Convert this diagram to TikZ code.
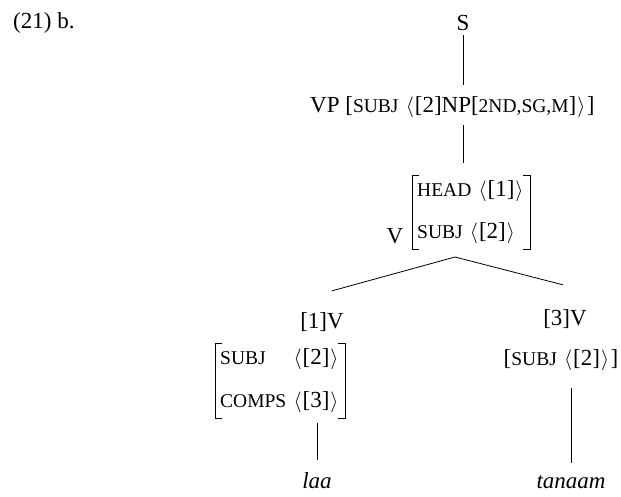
\documentclass[tikz,border=0pt]{standalone}
\usepackage{fontspec}
\setmainfont{Liberation Serif}
\usepackage{amsmath,amssymb}
\usepackage{tikz}

% small caps feature names
\newcommand{\fsc}[1]{{\fontsize{19.5}{21}\selectfont #1}}
\newcommand{\lng}{\kern1.5pt{\fontsize{20}{21}\selectfont$\langle$}\kern1pt}
\newcommand{\rng}{\kern1pt{\fontsize{20}{21}\selectfont$\rangle$}\kern1.5pt}
% brackets round an AVM node
\newcommand{\avmbrk}[1]{%
  \draw[brk] ([xshift=7pt]#1.north west) -- (#1.north west) -- (#1.south west) -- ([xshift=7pt]#1.south west);
  \draw[brk] ([xshift=-7pt]#1.north east) -- (#1.north east) -- (#1.south east) -- ([xshift=-7pt]#1.south east);}

\begin{document}
\begin{tikzpicture}[x=1pt,y=-1pt,
  every node/.style={font=\fontsize{23}{27}\selectfont, inner sep=0pt},
  avm/.style={inner xsep=5pt, inner ysep=2.5pt, anchor=north west},
  brk/.style={line width=0.7pt},
  tree/.style={line width=0.8pt}]
\useasboundingbox (0,0) rectangle (621,496);

\node [anchor=base west] (ex) at (13,28) {(21) b.};

\node [anchor=base] (s) at (463,30) {S};
\node [anchor=base west] (vp) at (310,112) {VP [\fsc{SUBJ} \lng[2]NP[\fsc{2ND,SG,M}]\rng]};

\node [anchor=base] (v) at (395,243) {V};
\node [avm] (vavm) at (412,175) {\begin{tabular}[t]{@{}l@{}}
  \fsc{HEAD} \lng[1]\rng\\[15pt]
  \fsc{SUBJ} \lng[2]\rng
\end{tabular}};
\avmbrk{vavm}
\coordinate (vapex) at (455,257);

% left daughter
\node [anchor=base] (lv) at (322,328) {[1]V};
\node [avm] (lavm) at (215,343) {\begin{tabular}[t]{@{}l@{\ }l@{}}
  \fsc{SUBJ} & \lng[2]\rng\\[16pt]
  \fsc{COMPS} & \lng[3]\rng
\end{tabular}};
\avmbrk{lavm}
\node [anchor=base] (laa) at (317,488) {\itshape laa};

% right daughter
\node [anchor=base] (rv) at (565,325) {[3]V};
\node [anchor=base] (ravm) at (561,365) {[\fsc{SUBJ} \lng[2]\rng]};
\node [anchor=base] (tan) at (571,488) {\itshape tanaam};

\draw[tree, shorten <=5pt, shorten >=11pt] (s.south) -- (s.south |- vp.north);
\draw[tree, shorten <=8pt, shorten >=12pt] (s.south |- vp.south) -- (s.south |- vavm.north);
\draw[tree] (vapex) -- ([shift={(10pt,21pt)}]lv.north);
\draw[tree] (vapex) -- ([shift={(-2pt,24pt)}]rv.north);
\draw[tree, shorten <=5pt, shorten >=12pt] (laa.north |- lavm.south) -- (laa.north);
\draw[tree, shorten <=18pt, shorten >=12pt] (tan.north |- ravm.south) -- (tan.north);

\end{tikzpicture}
\end{document}
